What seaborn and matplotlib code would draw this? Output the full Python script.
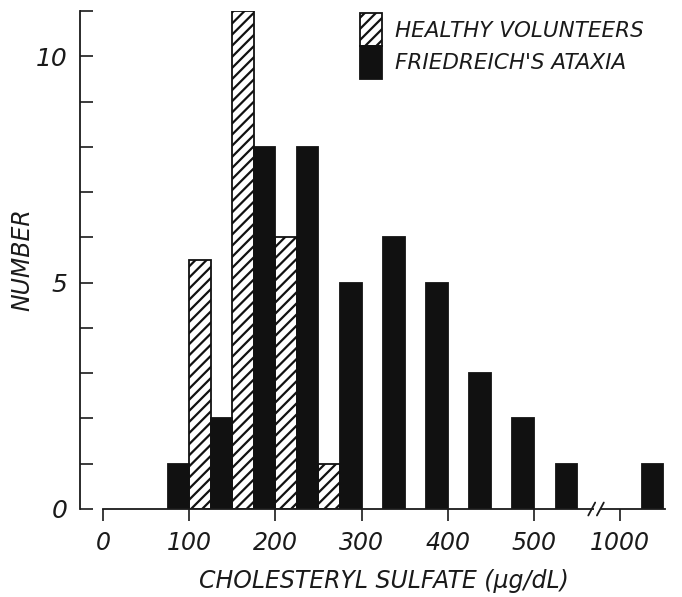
import numpy as np
import pandas as pd
import matplotlib
matplotlib.use("Agg")
import matplotlib.pyplot as plt
from matplotlib.patches import Patch
from matplotlib.ticker import MultipleLocator
import seaborn as sns

# ---- data ----
bin_lower = [50, 100, 150, 200, 250, 300, 350, 400, 450, 500, 1000]     # µg/dL, bins of 50
healthy_counts = [0, 5.5, 11, 6, 1, 0, 0, 0, 0, 0, 0]
ataxia_counts = [1, 2, 8, 8, 5, 6, 5, 3, 2, 1, 1]
group_names = ["HEALTHY VOLUNTEERS", "FRIEDREICH'S ATAXIA"]
xtick_values = [0, 100, 200, 300, 400, 500, 1000]
xtick_labels = ["0", "100", "200", "300", "400", "500", "1000"]
yticks_major = [0, 5, 10]

# broken axis: values >= 1000 are drawn shifted left
BREAK_FROM = 1000
BREAK_SHIFT = 400
BIN_WIDTH = 50


def axis_pos(v):
    return v - BREAK_SHIFT if v >= BREAK_FROM else v


rows = []
for b, h, a in zip(bin_lower, healthy_counts, ataxia_counts):
    c = axis_pos(b) + BIN_WIDTH / 2
    if h > 0:
        rows.append({"pos": c, "group": group_names[0], "count": h})
    if a > 0:
        rows.append({"pos": c, "group": group_names[1], "count": a})
df = pd.DataFrame(rows)

sns.set_style("ticks")
plt.rcParams["font.family"] = ["DejaVu Sans"]
plt.rcParams["hatch.linewidth"] = 1.6
plt.rcParams["hatch.color"] = "#111111"

fig = plt.figure(figsize=(6.82, 5.97), dpi=100)
ax = fig.add_axes([103 / 682, 88 / 597, (665 - 103) / 682, 498 / 597])

sns.barplot(data=df, x="pos", y="count", hue="group", hue_order=group_names,
            native_scale=True, dodge=True, width=1.0, errorbar=None,
            palette={group_names[0]: "white", group_names[1]: "#111111"},
            edgecolor="#111111", linewidth=1.3, saturation=1, ax=ax,
            legend=False)

for p in ax.patches:
    fc = p.get_facecolor()
    if fc[0] > 0.5:
        p.set_hatch("///")

sns.despine(ax=ax)
ax.spines["left"].set_position(("outward", 16.6))
for s in ["left", "bottom"]:
    ax.spines[s].set_linewidth(1.3)
    ax.spines[s].set_color("#1a1a1a")

ax.set_xlim(0, 652)
ax.set_ylim(0, 11)

text_kw = dict(fontstyle="italic", color="#1a1a1a")
ax.set_xticks([axis_pos(v) for v in xtick_values])
ax.set_xticklabels(xtick_labels, fontsize=17, **text_kw)
ax.set_yticks(yticks_major)
ax.set_yticklabels([str(v) for v in yticks_major], fontsize=18, **text_kw)
ax.yaxis.set_minor_locator(MultipleLocator(1))

ax.tick_params(axis="x", direction="out", length=8.6, width=1.2, pad=7,
               colors="#1a1a1a")
ax.tick_params(axis="y", which="both", direction="in", length=9, width=1.2,
               pad=9, colors="#1a1a1a")

ax.set_xlabel("CHOLESTERYL SULFATE (\u00b5g/dL)", fontsize=17, labelpad=10, **text_kw)
ax.set_ylabel("NUMBER", fontsize=17, **text_kw)
ax.yaxis.set_label_coords(-0.123, 0.5)

# axis break marks
tr = ax.get_xaxis_transform()
ax.plot([569.5, 577.5], [0, 0], color="white", lw=4, transform=tr,
        clip_on=False, zorder=10, solid_capstyle="butt")
for x0 in (563, 573):
    ax.plot([x0, x0 + 8], [-0.013, 0.013], color="#1a1a1a", lw=1.3,
            transform=tr, clip_on=False, zorder=11)

handles = [Patch(facecolor="white", edgecolor="#111111", hatch="///", linewidth=1.3),
           Patch(facecolor="#111111", edgecolor="#111111", linewidth=1.3)]
leg = ax.legend(handles, group_names, loc="upper left",
                bbox_to_anchor=(0.458, 0.995), frameon=False,
                prop={"size": 15.5, "style": "italic"},
                handlelength=1.0, handleheight=1.95, handletextpad=0.6,
                labelspacing=0.0, borderpad=0.0, borderaxespad=0.0)
for t in leg.get_texts():
    t.set_color("#1a1a1a")

fig.savefig("out.png", dpi=100)
